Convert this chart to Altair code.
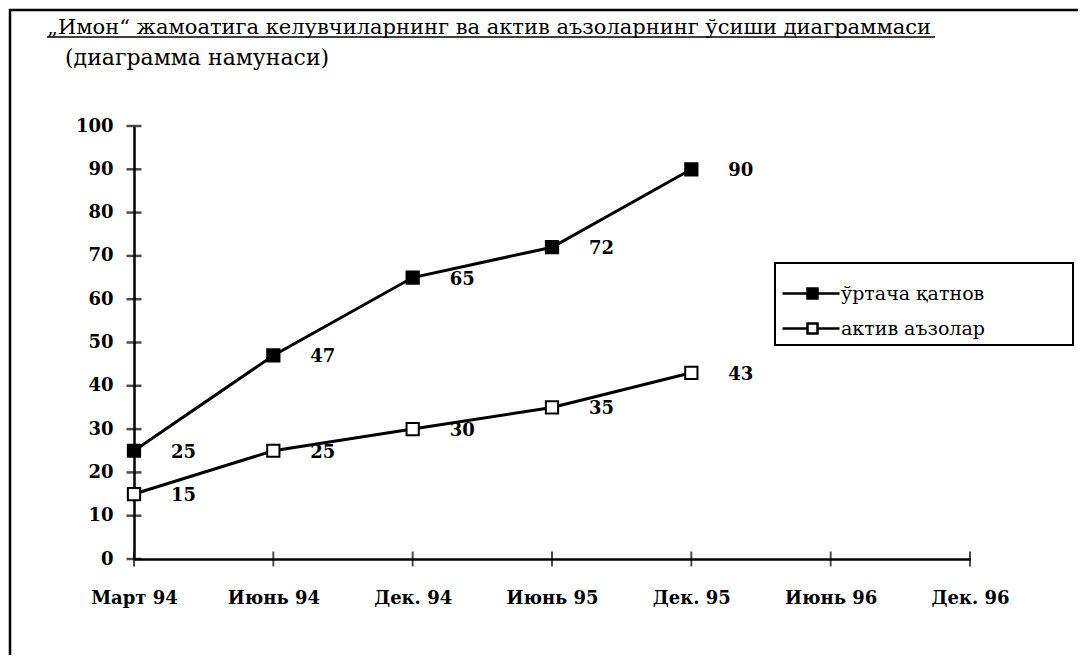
import altair as alt
import pandas as pd

categories = ["Март 94", "Июнь 94", "Дек. 94", "Июнь 95", "Дек. 95", "Июнь 96", "Дек. 96"]
series_names = ["ўртача қатнов", "актив аъзолар"]
series_a = [25, 47, 65, 72, 90]
series_b = [15, 25, 30, 35, 43]
y_ticks = [0, 10, 20, 30, 40, 50, 60, 70, 80, 90, 100]
title_text = "„Имон“ жамоатига келувчиларнинг ва актив аъзоларнинг ўсиши диаграммаси"
subtitle_text = "(диаграмма намунаси)"

rows = []
for name, vals in zip(series_names, [series_a, series_b]):
    for c, v in zip(categories, vals):
        rows.append({"period": c, "value": v, "series": name})
df = pd.DataFrame(rows)

FONT = "DejaVu Serif"
W, H = 836, 433

xs = alt.Scale(domain=categories, type="point", padding=0)
ys = alt.Scale(domain=[0, 100])

x_enc = alt.X("period:N", scale=xs, sort=categories,
              axis=alt.Axis(title=None, grid=False, ticks=False, tickSize=0, domainColor="black",
                            domainWidth=2.5, labelFont=FONT, labelFontSize=18, labelFontWeight="bold",
                            labelColor="black", labelPadding=39, labelAngle=0, labelAlign="center"))
y_enc = alt.Y("value:Q", scale=ys,
              axis=alt.Axis(title=None, grid=False, ticks=False, tickSize=0, values=y_ticks,
                            domainColor="black", domainWidth=2.5, labelFont=FONT, labelFontSize=18,
                            labelFontWeight="bold", labelColor="black", labelPadding=21))

base = alt.Chart(df)

lines = base.mark_line(strokeWidth=3, color="black").encode(
    x=x_enc, y=y_enc, detail="series:N")

sym = "M-1,0H1.5M2.5,0H4.7M1.5,-0.5H2.5V0.5H1.5Z"
points = base.mark_point(shape="square", size=150, strokeWidth=2, opacity=1, stroke="black").encode(
    x=alt.X("period:N", scale=xs, sort=categories),
    y=alt.Y("value:Q", scale=ys),
    fill=alt.Fill("series:N", sort=series_names,
                  scale=alt.Scale(domain=series_names, range=["black", "white"]),
                  legend=alt.Legend(title=None, orient="none", legendX=647, legendY=156,
                                    symbolType=sym, symbolSize=400, symbolStrokeColor="black",
                                    symbolStrokeWidth=2.5,
                                    labelFont=FONT, labelFontSize=19, labelColor="black",
                                    labelOffset=37, padding=0, rowPadding=13)),
)

labels = base.mark_text(align="left", baseline="middle", dx=37, dy=2, font=FONT,
                        fontSize=18, fontWeight="bold", color="black").encode(
    x=alt.X("period:N", scale=xs, sort=categories),
    y=alt.Y("value:Q", scale=ys),
    text="value:Q")

ytick_df = pd.DataFrame({"t": y_ticks})
yticks = alt.Chart(ytick_df).mark_tick(orient="horizontal", size=15, thickness=2.5, color="black").encode(
    y=alt.Y("t:Q", scale=ys), x=alt.value(0))

xtick_df = pd.DataFrame({"c": categories})
xticks = alt.Chart(xtick_df).mark_tick(orient="vertical", size=15, thickness=2, color="black").encode(
    x=alt.X("c:N", scale=xs, sort=categories), y=alt.value(H))

deco_df = pd.DataFrame({"k": [0]})
border = alt.Chart(deco_df).mark_rect(fill=None, stroke="black", strokeWidth=2.5).encode(
    x=alt.value(-124), x2=alt.value(990), y=alt.value(-116), y2=alt.value(600))
legend_box = alt.Chart(deco_df).mark_rect(fill=None, stroke="black", strokeWidth=2).encode(
    x=alt.value(641), x2=alt.value(939), y=alt.value(137), y2=alt.value(219))

title = alt.Chart(deco_df).mark_text(align="left", baseline="alphabetic", font=FONT, fontSize=21,
                                     color="black").encode(
    x=alt.value(-87), y=alt.value(-92), text=alt.value(title_text))
underline = alt.Chart(deco_df).mark_rule(color="black", strokeWidth=1.5).encode(
    x=alt.value(-87), x2=alt.value(801), y=alt.value(-89))
subtitle = alt.Chart(deco_df).mark_text(align="left", baseline="alphabetic", font=FONT, fontSize=22,
                                        color="black").encode(
    x=alt.value(-69), y=alt.value(-61), text=alt.value(subtitle_text))

chart = alt.layer(border, legend_box, title, underline, subtitle, yticks, xticks, lines, points, labels).properties(
    width=W, height=H,
    background="white",
    autosize=alt.AutoSizeParams(type="none"),
    padding={"left": 126, "top": 118, "right": 108, "bottom": 96},
).configure_view(strokeWidth=0, stroke=None)

chart.save("out.html", embed_options={"renderer": "svg", "actions": False})
